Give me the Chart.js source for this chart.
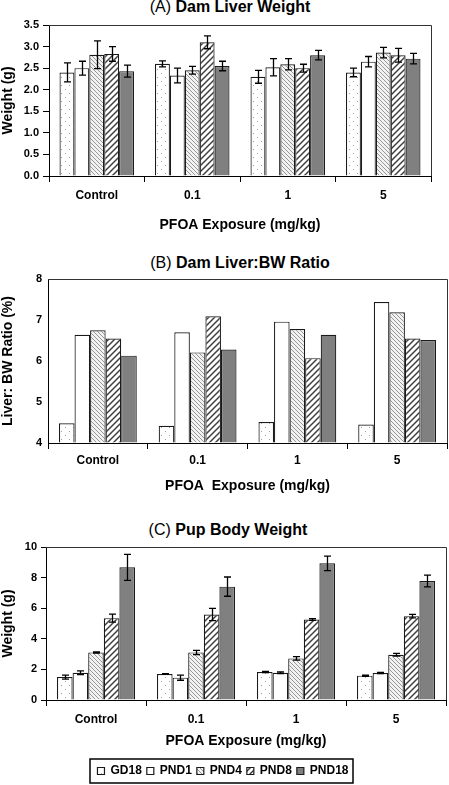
<!DOCTYPE html>
<html><head><meta charset="utf-8">
<script src="https://cdn.jsdelivr.net/npm/chart.js@4.4.1/dist/chart.umd.min.js"></script>
<style>
html,body{margin:0;padding:0;background:#fff;width:449px;height:785px;overflow:hidden;position:relative;font-family:'Liberation Sans',Arial,sans-serif;}
canvas{position:absolute;left:0;}
.ttl{position:absolute;transform:translateX(-50%);font-size:16px;line-height:16px;white-space:nowrap;color:#000;}
</style></head><body>
<div class="ttl" style="left:230px;top:-1px">(A) <b>Dam Liver Weight</b></div>
<div class="ttl" style="left:240px;top:255px">(B) <b>Dam Liver:BW Ratio</b></div>
<div class="ttl" style="left:228px;top:522px">(C) <b>Pup Body Weight</b></div>
<canvas id="cA" width="449" height="236" style="top:0px"></canvas>
<canvas id="cB" width="449" height="245" style="top:250px"></canvas>
<canvas id="cC" width="449" height="267" style="top:520px"></canvas>
<script>
// ---------- data ----------
const categories = ['Control', '0.1', '1', '5'];
const seriesNames = ['GD18', 'PND1', 'PND4', 'PND8', 'PND18'];

// (A) Dam liver weight (g)
const liverGD18  = [2.40, 2.60, 2.30, 2.40];
const liverPND1  = [2.50, 2.33, 2.52, 2.65];
const liverPND4  = [2.81, 2.45, 2.59, 2.86];
const liverPND8  = [2.83, 3.10, 2.50, 2.80];
const liverPND18 = [2.43, 2.55, 2.80, 2.72];
const liverErrGD18  = [0.22, 0.07, 0.15, 0.10];
const liverErrPND1  = [0.16, 0.17, 0.20, 0.12];
const liverErrPND4  = [0.32, 0.09, 0.13, 0.12];
const liverErrPND8  = [0.17, 0.15, 0.09, 0.16];
const liverErrPND18 = [0.14, 0.11, 0.11, 0.12];
const liverTicks = ['0.0','0.5','1.0','1.5','2.0','2.5','3.0','3.5'];

// (B) Dam liver:BW ratio (%)
const ratioGD18  = [4.48, 4.42, 4.51, 4.45];
const ratioPND1  = [6.64, 6.70, 6.96, 7.44];
const ratioPND4  = [6.75, 6.21, 6.78, 7.19];
const ratioPND8  = [6.55, 7.09, 6.07, 6.55];
const ratioPND18 = [6.13, 6.28, 6.64, 6.51];
const ratioTicks = ['4','5','6','7','8'];

// (C) Pup body weight (g)
const pupGD18  = [1.50, 1.70, 1.83, 1.59];
const pupPND1  = [1.78, 1.46, 1.78, 1.76];
const pupPND4  = [3.11, 3.11, 2.72, 2.96];
const pupPND8  = [5.35, 5.59, 5.26, 5.48];
const pupPND18 = [8.67, 7.41, 8.93, 7.78];
const pupErrGD18  = [0.13, 0.03, 0.04, 0.04];
const pupErrPND1  = [0.12, 0.17, 0.05, 0.04];
const pupErrPND4  = [0.04, 0.14, 0.12, 0.09];
const pupErrPND8  = [0.26, 0.40, 0.06, 0.11];
const pupErrPND18 = [0.85, 0.63, 0.48, 0.38];
const pupTicks = ['0','2','4','6','8','10'];

// ---------- patterns ----------
function makePattern(kind) {
  const c = document.createElement('canvas');
  const g = c.getContext('2d');
  let s;
  if (kind === 'dots') {
    s = 8; c.width = c.height = s;
    g.fillStyle = '#fff'; g.fillRect(0, 0, s, s);
    g.fillStyle = '#a0a0a0';
    g.fillRect(1, 1, 1, 1); g.fillRect(5, 5, 1, 1);
  } else if (kind === 'back') {
    s = 4; c.width = c.height = s;
    g.fillStyle = '#f2f2f2'; g.fillRect(0, 0, s, s);
    g.strokeStyle = '#8c8c8c'; g.lineWidth = 0.9;
    g.beginPath();
    g.moveTo(0, 0); g.lineTo(s, s);
    g.moveTo(-1, s - 1); g.lineTo(1, s + 1);
    g.moveTo(s - 1, -1); g.lineTo(s + 1, 1);
    g.stroke();
  } else if (kind === 'fwd') {
    s = 6; c.width = c.height = s;
    g.fillStyle = '#fff'; g.fillRect(0, 0, s, s);
    g.strokeStyle = '#404040'; g.lineWidth = 1.5;
    g.beginPath();
    g.moveTo(0, s); g.lineTo(s, 0);
    g.moveTo(-1, 1); g.lineTo(1, -1);
    g.moveTo(s - 1, s + 1); g.lineTo(s + 1, s - 1);
    g.stroke();
  }
  return g.createPattern(c, 'repeat');
}
const fills = [makePattern('dots'), '#ffffff', makePattern('back'), makePattern('fwd'), '#808080'];

Chart.defaults.font.family = "'Liberation Sans', Arial, sans-serif";
Chart.defaults.color = '#000';

// ---------- plugins ----------
const errorBarPlugin = {
  id: 'errorBars',
  afterDatasetsDraw(chart, args, opts) {
    const errs = opts.errors;
    if (!errs) return;
    const ctx = chart.ctx;
    const y = chart.scales.y;
    ctx.save();
    ctx.strokeStyle = '#000';
    ctx.lineWidth = 1.3;
    chart.data.datasets.forEach((ds, i) => {
      const meta = chart.getDatasetMeta(i);
      meta.data.forEach((el, j) => {
        const v = ds.data[j], e = errs[i][j];
        const yt = y.getPixelForValue(v + e), yb = y.getPixelForValue(v - e);
        const x = Math.round(el.x) + 0.5, w = 3.5;
        ctx.beginPath();
        ctx.moveTo(x, yt); ctx.lineTo(x, yb);
        ctx.moveTo(x - w, yt); ctx.lineTo(x + w, yt);
        ctx.moveTo(x - w, yb); ctx.lineTo(x + w, yb);
        ctx.stroke();
      });
    });
    ctx.restore();
  }
};
const framePlugin = {
  id: 'frame',
  afterDraw(chart) {
    const a = chart.chartArea, ctx = chart.ctx;
    ctx.save();
    ctx.strokeStyle = '#333'; ctx.lineWidth = 1;
    ctx.beginPath();
    ctx.moveTo(a.left, a.top + 0.5); ctx.lineTo(a.right + 0.5, a.top + 0.5); ctx.lineTo(a.right + 0.5, a.bottom);
    ctx.stroke();
    const lg = chart.legend;
    if (lg && lg.options.display && lg.legendHitBoxes && lg.legendHitBoxes.length) {
      const hb = lg.legendHitBoxes;
      const l = Math.min(...hb.map(h => h.left));
      const r = Math.max(...hb.map(h => h.left + h.width));
      const t = hb[0].top, h = hb[0].height;
      ctx.strokeStyle = '#000'; ctx.lineWidth = 1.5;
      ctx.strokeRect(Math.round(l - 7), Math.round(t - 6), Math.round(r - l + 12), Math.round(h + 12));
    }
    ctx.restore();
  }
};

function build(id, cfg) {
  const datasets = cfg.values.map((vals, i) => ({
    label: seriesNames[i],
    data: vals,
    backgroundColor: fills[i],
    borderColor: '#1a1a1a',
    borderWidth: 1.2,
    base: cfg.base,
    categoryPercentage: 0.78,
    barPercentage: 1.0
  }));
  return new Chart(document.getElementById(id), {
    type: 'bar',
    data: { labels: categories, datasets },
    options: {
      responsive: false, animation: false, devicePixelRatio: 1,
      datasets: { bar: { categoryPercentage: 0.78, barPercentage: 1.0 } },
      layout: { padding: cfg.pad },
      plugins: {
        legend: cfg.legend ? {
          display: true, position: 'bottom',
          labels: { boxWidth: 7, boxHeight: 7, padding: 5, color: '#000', font: { size: 12, weight: 'bold' } }
        } : { display: false },
        tooltip: { enabled: false },
        errorBars: { errors: cfg.errors }
      },
      scales: {
        x: {
          afterFit(s) { s.height = cfg.xHeight; },
          grid: { offset: true, drawOnChartArea: false, drawTicks: true, tickLength: 6, color: '#000' },
          border: { color: '#000', width: 1 },
          ticks: { padding: cfg.xPad, color: '#000', font: { size: 12, weight: 'bold' } },
          title: { display: true, text: cfg.xTitle, color: '#000', padding: { top: 0, bottom: cfg.xTitlePad }, font: { size: 14, weight: 'bold' } }
        },
        y: {
          min: cfg.yMin, max: cfg.yMax,
          afterFit(s) { s.width = cfg.yWidth; },
          afterBuildTicks(s) {
            s.ticks = cfg.tickLabels.map(t => ({ value: parseFloat(t) }));
          },
          grid: { drawOnChartArea: false, drawTicks: cfg.yTickLen > 0, tickLength: cfg.yTickLen, color: '#000' },
          border: { color: '#000', width: 1 },
          ticks: {
            padding: cfg.yPad, color: '#000', font: { size: 11, weight: 'bold' },
            callback: (v, i) => cfg.tickLabels[i]
          },
          title: { display: true, text: cfg.yTitle, color: '#000', padding: 0, font: { size: 14, weight: 'bold' } }
        }
      }
    },
    plugins: [errorBarPlugin, framePlugin]
  });
}

build('cA', {
  values: [liverGD18, liverPND1, liverPND4, liverPND8, liverPND18],
  errors: [liverErrGD18, liverErrPND1, liverErrPND4, liverErrPND8, liverErrPND18],
  yMin: 0, yMax: 3.5, tickLabels: liverTicks,
  yTitle: 'Weight (g)', xTitle: 'PFOA Exposure (mg/kg)',
  pad: { top: 25, right: 18, left: 0, bottom: 0 },
  yWidth: 49, xHeight: 60, yTickLen: 6, yPad: 4, xPad: 6, xTitlePad: 2
});
build('cB', {
  values: [ratioGD18, ratioPND1, ratioPND4, ratioPND8, ratioPND18],
  errors: null, base: 4,
  yMin: 4, yMax: 8, tickLabels: ratioTicks,
  yTitle: 'Liver: BW Ratio (%)', xTitle: 'PFOA  Exposure (mg/kg)',
  pad: { top: 29, right: 2, left: 0, bottom: 0 },
  yWidth: 48, xHeight: 52, yTickLen: 0, yPad: 6, xPad: 4, xTitlePad: 0
});
build('cC', {
  values: [pupGD18, pupPND1, pupPND4, pupPND8, pupPND18],
  errors: [pupErrGD18, pupErrPND1, pupErrPND4, pupErrPND8, pupErrPND18],
  yMin: 0, yMax: 10, tickLabels: pupTicks,
  yTitle: 'Weight (g)', xTitle: 'PFOA Exposure (mg/kg)',
  pad: { top: 27, right: 3, left: 0, bottom: 0 },
  yWidth: 46, xHeight: 60, yTickLen: 5, yPad: 4, xPad: 6, xTitlePad: 10, legend: true
});
</script>
</body></html>
